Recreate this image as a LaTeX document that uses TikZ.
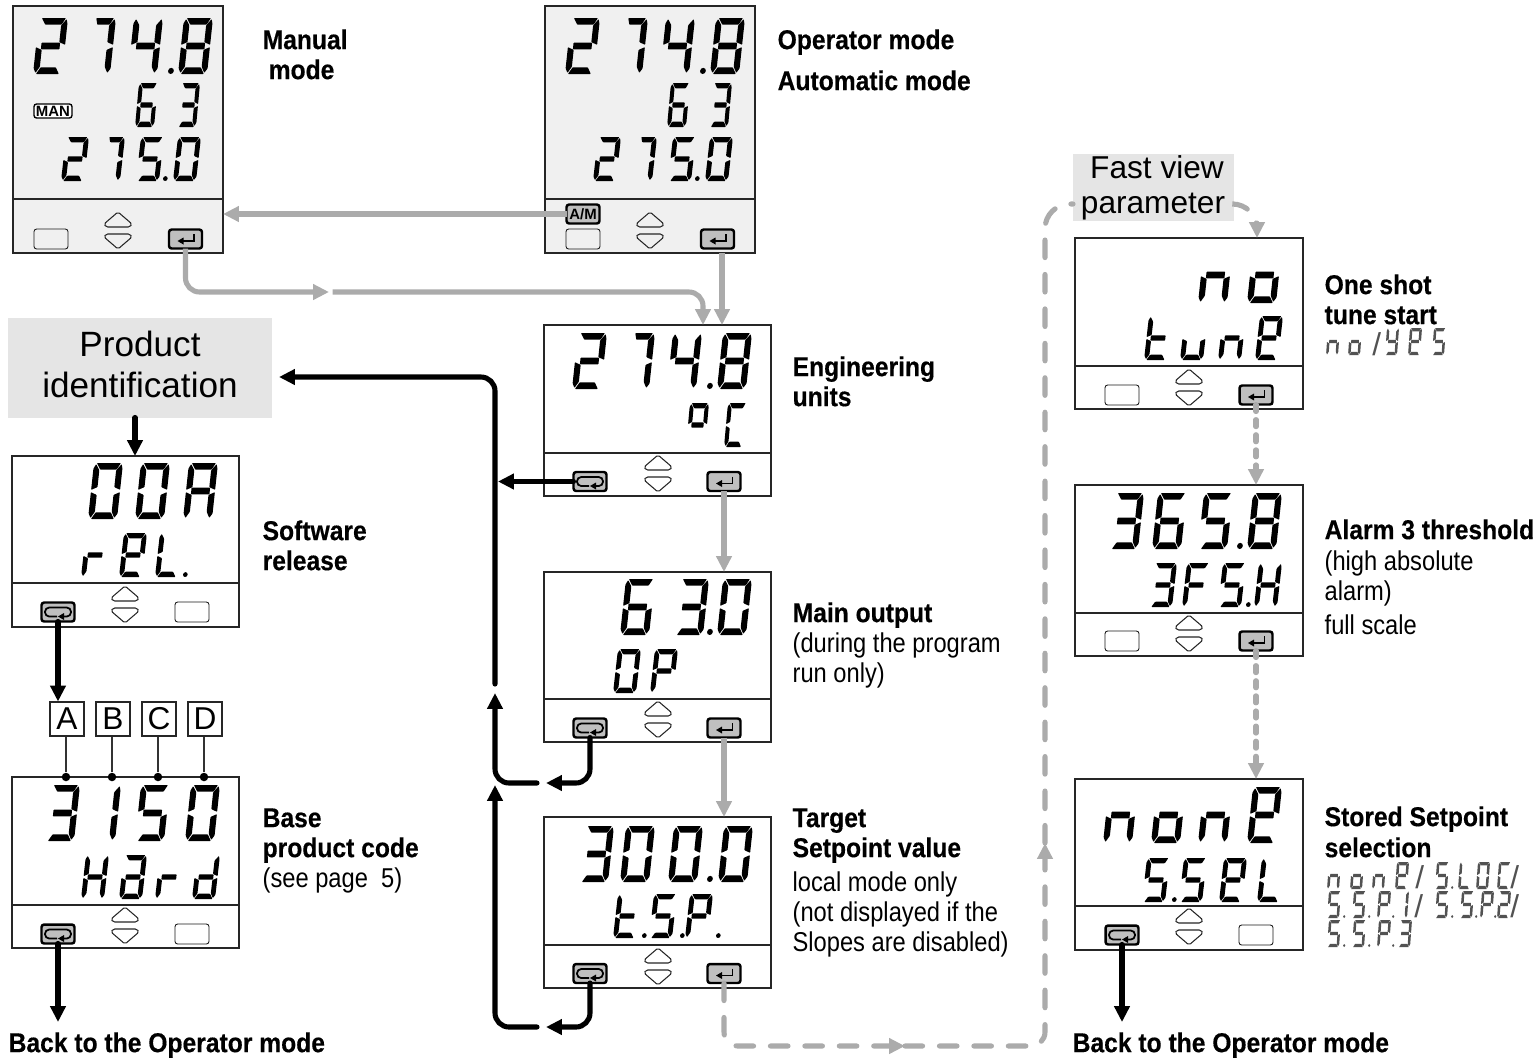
\documentclass[tikz,border=0pt]{standalone}
\usepackage{fontspec}
\setmainfont{Liberation Sans}
\newfontfamily\narrowfont[FakeStretch=0.87]{Liberation Sans}
\newfontfamily\narrowbold[FakeStretch=0.905,FakeBold=0.4,UprightFont={* Bold}]{Liberation Sans}
\usetikzlibrary{arrows.meta}

% segment shapes in a unit box
\newcommand{\lcdsega}{\fill[lcdink] (.10,1) -- (.93,1) -- (.80,.88) -- (.24,.88) -- cycle;}
\newcommand{\lcdsegA}{\fill[lcdink] (.32,1) -- (.93,1) -- (.80,.88) -- (.38,.88) -- cycle;}
\newcommand{\lcdsegb}{\fill[lcdink] (1.0,.52) -- (1.0,.90) -- (.96,.98) -- (.79,.87) -- (.79,.57) -- cycle;}
\newcommand{\lcdsegc}{\fill[lcdink] (1.0,.48) -- (.79,.43) -- (.79,.13) -- (.90,.02) -- (1.0,.10) -- cycle;}
\newcommand{\lcdsegd}{\fill[lcdink] (.10,0) -- (.89,0) -- (.76,.12) -- (.24,.12) -- cycle;}
\newcommand{\lcdsege}{\fill[lcdink] (0,.48) -- (.21,.43) -- (.21,.13) -- (.08,.02) -- (0,.10) -- cycle;}
\newcommand{\lcdsegf}{\fill[lcdink] (0,.52) -- (0,.90) -- (.08,.98) -- (.21,.87) -- (.21,.57) -- cycle;}
\newcommand{\lcdsegg}{\fill[lcdink] (.18,.56) -- (.82,.56) -- (.82,.44) -- (.18,.44) -- cycle;}
\newcommand{\lcdsegp}{\fill[lcdink] (.09,.055) ellipse (.10 and .055);}
% which segments each character lights
\expandafter\def\csname lcdmap0\endcsname{a,b,c,d,e,f}
\expandafter\def\csname lcdmap1\endcsname{b,c}
\expandafter\def\csname lcdmap2\endcsname{a,b,d,e,g}
\expandafter\def\csname lcdmap3\endcsname{a,b,c,d,g}
\expandafter\def\csname lcdmap4\endcsname{b,c,f,g}
\expandafter\def\csname lcdmap5\endcsname{a,c,d,f,g}
\expandafter\def\csname lcdmap6\endcsname{a,c,d,e,f,g}
\expandafter\def\csname lcdmap7\endcsname{A,b,c}
\expandafter\def\csname lcdmap8\endcsname{a,b,c,d,e,f,g}
\expandafter\def\csname lcdmapA\endcsname{a,b,c,e,f,g}
\expandafter\def\csname lcdmapC\endcsname{a,d,e,f}
\expandafter\def\csname lcdmapE\endcsname{a,b,d,e,f,g}
\expandafter\def\csname lcdmapF\endcsname{a,e,f,g}
\expandafter\def\csname lcdmapH\endcsname{b,c,e,f,g}
\expandafter\def\csname lcdmapL\endcsname{d,e,f}
\expandafter\def\csname lcdmapO\endcsname{a,b,c,d,e,f}
\expandafter\def\csname lcdmapP\endcsname{a,b,e,f,g}
\expandafter\def\csname lcdmapS\endcsname{a,c,d,f,g}
\expandafter\def\csname lcdmapY\endcsname{b,c,d,f,g}
\expandafter\def\csname lcdmapa\endcsname{a,b,c,d,e,g}
\expandafter\def\csname lcdmapd\endcsname{b,c,d,e,g}
\expandafter\def\csname lcdmapn\endcsname{c,e,g}
\expandafter\def\csname lcdmapo\endcsname{c,d,e,g}
\expandafter\def\csname lcdmapq\endcsname{a,b,f,g}
\expandafter\def\csname lcdmapr\endcsname{e,g}
\expandafter\def\csname lcdmapt\endcsname{d,e,f,g}
\expandafter\def\csname lcdmapu\endcsname{c,d,e}
\expandafter\def\csname lcdmap.\endcsname{p}

% width, slant, height, baseline, char/x list
\newcommand{\lcdrow}[5]{%
\foreach \ch/\xx in {#5} {
\begin{scope}[shift={(\xx,#4)},x={(#1*0.02cm,0cm)},y={(#2*0.02cm,#3*0.02cm)}]
\expandafter\let\expandafter\lcdlist\csname lcdmap\ch\endcsname
\foreach \sg in \lcdlist {\csname lcdseg\sg\endcsname}
\end{scope}}}
\newcommand{\bigrow}[2]{\lcdrow{29}{6}{56}{#1}{#2}}
\newcommand{\midrow}[2]{\lcdrow{23}{5}{44}{#1}{#2}}
\newcommand{\lowrow}[2]{\lcdrow{19}{4}{44}{#1}{#2}}
\newcommand{\tinyrow}[2]{\begin{scope}[lcdink/.style={fill=black!68}]\lcdrow{12}{2}{27}{#1}{#2}\end{scope}}

% name, x0, y0, x1, y1, separator y, style
\newcommand{\lcdpanel}[7]{%
\pgfmathsetmacro\pw{#4-#2}\pgfmathsetmacro\ph{#5-#3}
\node[#7,minimum width=\pw*0.02cm,minimum height=\ph*0.02cm,anchor=north west] (#1) at (#2,#3) {};
\draw[panelline] (#2,#6) -- (#4,#6);}
\newcommand{\updown}[2]{\begin{scope}[shift={(#1,#2)}]
\draw[panelline,rounded corners=1pt] (-14,12) -- (0,0) -- (14,12) -- (12,15) -- (-12,15) -- cycle;
\draw[panelline,rounded corners=1pt] (-14,25) -- (0,37) -- (14,25) -- (12,22) -- (-12,22) -- cycle;
\end{scope}}
\newcommand{\blankkey}[3]{\node[blankbox] (#1) at (#2,#3) {};}
\newcommand{\enterkey}[3]{\node[keybox] (#1) at (#2,#3) {};
\begin{scope}[shift={(#2,#3)}]
\draw[line width=0.9pt] (8.5,-5) -- (8.5,2) -- (-3,2);
\fill (-8,2) -- (-2,-1.5) -- (-2,5.5) -- cycle;
\end{scope}}
\newcommand{\loopkey}[3]{\node[keybox] (#1) at (#2,#3) {};
\begin{scope}[shift={(#2,#3)}]
\draw[line width=1pt,rounded corners=2.4pt] (-1,4.5) -- (-13,4.5) -- (-13,-4.5) -- (13,-4.5) -- (13,4.5) -- (5,4.5);
\fill (0,4.5) -- (6,1) -- (6,8) -- cycle;
\end{scope}}

\tikzset{
lcdink/.style={fill=black,rounded corners=0.4pt},
panelline/.style={draw=black!85,line width=0.6pt},
whitepanel/.style={rectangle,draw=black!85,line width=0.6pt,fill=white,inner sep=0pt,outer sep=0pt},
greypanel/.style={whitepanel,fill=black!6},
keybox/.style={rectangle,rounded corners=1.5pt,draw=black,line width=1.4pt,fill=black!25,minimum width=0.66cm,minimum height=0.38cm,inner sep=0pt,outer sep=0pt},
blankbox/.style={keybox,draw=black!90,line width=0.5pt,fill=none,minimum width=0.68cm,minimum height=0.4cm},
boldlab/.style={anchor=base west,inner sep=0pt,xshift=-0.4pt,yshift=0.5pt,font=\narrowbold\fontsize{15.5}{15.5}\selectfont},
thinlab/.style={anchor=base west,inner sep=0pt,xshift=-0.4pt,yshift=0.5pt,font=\narrowfont\fontsize{15.5}{15.5}\selectfont},
slashlab/.style={anchor=base west,inner sep=0pt,text=black!68,font=\fontsize{18}{18}\selectfont},
heading/.style={fill=black!10,inner sep=0pt,outer sep=0pt,align=center},
pin/.style={rectangle,draw=black!85,line width=0.6pt,inner sep=0pt,minimum size=0.68cm,font=\fontsize{18}{18}\selectfont},
pindot/.style={circle,fill=black,inner sep=0pt,minimum size=0.17cm},
blackflow/.style={draw=black,line width=2.9pt,rounded corners=8pt,line cap=round},
blackarrow/.style={blackflow,-{Triangle[length=9pt,width=8.5pt]}},
greyflow/.style={draw=black!33,line width=2.9pt,rounded corners=8pt},
greyarrow/.style={greyflow,-{Triangle[length=9pt,width=8.5pt]}},
longdash/.style={line cap=round,dash pattern=on 10pt off 9.6pt},
shortdash/.style={line cap=round,dash pattern=on 4pt off 4.6pt},
}

\begin{document}
\begin{tikzpicture}[x=0.02cm,y=-0.02cm]
\useasboundingbox (0,0) rectangle (1537,1059);

% top row
\lcdpanel{manual}{13}{6}{223}{253}{199}{greypanel}
\bigrow{74}{2/33,7/81,4/128,./168,8/178}
\lowrow{127}{6/135,3/177}
\midrow{181}{2/61,7/97,5/136,./163,0/173}
\node[rectangle,rounded corners=1.5pt,draw=black,line width=0.8pt,fill=white,inner sep=0pt,minimum width=0.76cm,minimum height=0.28cm,font=\bfseries\fontsize{8.5}{8.5}\selectfont] (manflag) at (53,111) {MAN};
\blankkey{man-blank}{51}{239}
\updown{118}{212}
\enterkey{man-ent}{185.5}{239}
\node[boldlab] (man-a) at (263,50) {Manual};
\node[boldlab] (man-b) at (269,80) {mode};

\lcdpanel{operator}{545}{6}{755}{253}{199}{greypanel}
\bigrow{74}{2/565,7/613,4/660,./700,8/710}
\lowrow{127}{6/667,3/709}
\midrow{181}{2/593,7/629,5/668,./695,0/705}
\node[keybox,font=\bfseries\fontsize{8.5}{8.5}\selectfont] (opr-am) at (583,214) {A/M};
\blankkey{opr-blank}{583}{239}
\updown{650}{212}
\enterkey{opr-ent}{717.5}{239}
\node[boldlab] (opr-a) at (778,50) {Operator mode};
\node[boldlab] (opr-b) at (778,91) {Automatic mode};

% centre column
\lcdpanel{eng}{544}{325}{771}{496}{453}{whitepanel}
\bigrow{389}{2/572,7/620,4/667,./707,8/717}
\lowrow{447}{q/686,C/724}
\loopkey{eng-loop}{590}{481.5}
\updown{658}{455}
\enterkey{eng-ent}{724}{481.5}
\node[boldlab] (eng-a) at (793,377) {Engineering};
\node[boldlab] (eng-b) at (793,407) {units};

\lcdpanel{mainout}{544}{572}{771}{742}{699}{whitepanel}
\bigrow{635}{6/620,3/674,./707,0/717}
\midrow{693}{O/613,P/650}
\loopkey{main-loop}{590}{728}
\updown{658}{701}
\enterkey{main-ent}{724}{728}
\node[boldlab] (main-a) at (793,623) {Main output};
\node[thinlab] (main-b) at (793,653) {(during the program};
\node[thinlab] (main-c) at (793,683) {run only)};

\lcdpanel{target}{544}{817}{771}{988}{945}{whitepanel}
\bigrow{882}{3/579,0/620,0/668,./707,0/718}
\midrow{938}{t/613,./642,5/649,./680,P/685,./716}
\loopkey{tgt-loop}{590}{973.5}
\updown{658}{948}
\enterkey{tgt-ent}{724}{973.5}
\node[boldlab] (tgt-a) at (793,828) {Target};
\node[boldlab] (tgt-b) at (793,858) {Setpoint value};
\node[thinlab] (tgt-c) at (793,892) {local mode only};
\node[thinlab] (tgt-d) at (793,922) {(not displayed if the};
\node[thinlab] (tgt-e) at (793,952) {Slopes are disabled)};

% left column
\node[heading,minimum width=5.28cm,minimum height=2cm] (product) at (140,367.5) {};
\node[anchor=base,inner sep=0pt,font=\fontsize{20}{20}\selectfont] (product-a) at (140,356) {Product};
\node[anchor=base,inner sep=0pt,font=\fontsize{20}{20}\selectfont] (product-b) at (140,397) {identification};

\lcdpanel{release}{12}{456}{239}{627}{583}{whitepanel}
\bigrow{519}{0/88,0/135,A/183}
\midrow{577}{r/81,E/119,L/155,./183}
\loopkey{rel-loop}{58}{612}
\updown{125}{586}
\blankkey{rel-blank}{192}{612}
\node[boldlab] (rel-a) at (263,541) {Software};
\node[boldlab] (rel-b) at (263,571) {release};

\foreach \pn/\px in {A/67,B/113,C/159,D/205}
\node[pin] (pin\pn) at (\px,719) {\pn};

\lcdpanel{base}{12}{777}{239}{948}{905}{whitepanel}
\bigrow{841}{3/45,1/86,5/135,0/185}
\midrow{899}{H/81,a/119,r/155,d/192}
\loopkey{base-loop}{58}{934}
\updown{125}{907}
\blankkey{base-blank}{192}{934}
\node[boldlab] (base-a) at (263,828) {Base};
\node[boldlab] (base-b) at (263,858) {product code};
\node[thinlab] (base-c) at (263,888) {(see page~ 5)};
\foreach \pn/\px in {A/66,B/112,C/158,D/204} {
\node[pindot] (dot\pn) at (\px,777) {};
\draw[draw=black!80,line width=0.6pt] (pin\pn.south -| dot\pn) -- (dot\pn);
}
\node[boldlab] (back-a) at (9,1053) {Back to the Operator mode};

% right column
\node[heading,minimum width=3.22cm,minimum height=1.34cm] (fastview) at (1153.5,187.5) {};
\node[anchor=base,inner sep=0pt,font=\fontsize{18}{18}\selectfont] (fastview-a) at (1157,178) {Fast view};
\node[anchor=base,inner sep=0pt,font=\fontsize{18}{18}\selectfont] (fastview-b) at (1153,213) {parameter};

\lcdpanel{oneshot}{1075}{238}{1303}{409}{366}{whitepanel}
\bigrow{303}{n/1198,o/1247}
\midrow{360}{t/1144,u/1180,n/1218,E/1255}
\blankkey{shot-blank}{1122}{395}
\updown{1189}{369}
\enterkey{shot-ent}{1256}{395}
\node[boldlab] (shot-a) at (1325,295) {One shot};
\node[boldlab] (shot-b) at (1325,325) {tune start};
\tinyrow{355}{n/1326,o/1348,Y/1385,E/1408,S/1432}
\node[slashlab] (shot-s) at (1372,355) {/};

\lcdpanel{alarm}{1075}{485}{1303}{656}{613}{whitepanel}
\bigrow{549}{3/1109,6/1152,5/1198,./1237,8/1247}
\midrow{607}{3/1149,F/1182,5/1218,./1246,H/1254}
\blankkey{alarm-blank}{1122}{641}
\updown{1189}{615}
\enterkey{alarm-ent}{1256}{641}
\node[boldlab] (alarm-a) at (1325,540) {Alarm 3 threshold};
\node[thinlab] (alarm-b) at (1325,571) {(high absolute};
\node[thinlab] (alarm-c) at (1325,601) {alarm)};
\node[thinlab] (alarm-d) at (1325,635) {full scale};

\lcdpanel{stored}{1075}{779}{1303}{950}{906}{whitepanel}
\bigrow{843}{n/1103,o/1151,n/1198,E/1247}
\midrow{902}{5/1142,./1172,5/1179,E/1219,L/1257}
\loopkey{stored-loop}{1122}{935}
\updown{1189}{908}
\blankkey{stored-blank}{1256}{935}
\node[boldlab] (stored-a) at (1325,827) {Stored Setpoint};
\node[boldlab] (stored-b) at (1325,858) {selection};
\tinyrow{889}{n/1327,o/1350,n/1372,E/1395,S/1435,./1451,L/1458,O/1476,C/1497}
\tinyrow{918}{S/1327,./1343,S/1352,./1368,P/1377,./1392,1/1395,S/1435,./1451,S/1460,./1475,P/1480,./1494,2/1497}
\tinyrow{947}{S/1327,./1343,S/1352,./1368,P/1377,./1392,3/1398}
\node[slashlab] (stored-s1) at (1415,888) {/};
\node[slashlab] (stored-s2) at (1510,888) {/};
\node[slashlab] (stored-s3) at (1414,917) {/};
\node[slashlab] (stored-s4) at (1510,917) {/};
\node[boldlab] (back-b) at (1073,1053) {Back to the Operator mode};

% grey flow
\coordinate (join) at (329,292);
\coordinate (engleft) at (703,325);
\coordinate (engright) at (722,325);
\draw[greyarrow] (opr-am.west) -- (opr-am.west -| manual.east);
\draw[greyarrow] (man-ent.south) |- (join);
\draw[greyarrow,shorten <=2pt] (join) -| (engleft);
\draw[greyarrow] (engright |- operator.south) -- (engright);
\draw[greyarrow] (eng-ent.south) -- (eng-ent.south |- mainout.north);
\draw[greyarrow] (main-ent.south) -- (main-ent.south |- target.north);

% dashed grey flow
\coordinate (midbottom) at (905,1046);
\coordinate (midright) at (1045,843);
\coordinate (fastleft) at (1073,204);
\coordinate (fastright) at (1234,204);
\coordinate (shotin) at (1257,238);
\draw[greyarrow,longdash] (tgt-ent.south) |- (midbottom);
\draw[greyarrow,longdash] (midbottom) -| (midright);
\draw[greyflow,longdash,rounded corners=14pt] (midright) |- (fastleft);
\draw[greyarrow,longdash,rounded corners=14pt] (fastright) -| (shotin);
\draw[greyarrow,shortdash] (shot-ent.south) -- (shot-ent.south |- alarm.north);
\draw[greyarrow,shortdash] (alarm-ent.south) -- (alarm-ent.south |- stored.north);

% black flow
\coordinate (backleft) at (58,1022);
\coordinate (backright) at (1122,1022);
\coordinate (engin) at (498,483);
\coordinate (riser) at (495,684);
\coordinate (riserlow) at (495,693);
\coordinate (riserbase) at (495,785);
\coordinate (productin) at (279,377);
\coordinate (mainjoin) at (546,783);
\coordinate (tgtjoin) at (546,1027);
\draw[blackarrow] (product.south -| 135,0) -- (release.north -| 135,0);
\draw[blackarrow] (rel-loop.south) -- (rel-loop.south |- pinA.north);
\draw[blackarrow] (base-loop.south) -- (backleft);
\draw[blackarrow] (stored-loop.south) -- (backright);
\draw[blackarrow] (eng-loop.west) -- (engin |- eng-loop.west);
\draw[blackarrow] (riser) |- (productin);
\draw[blackarrow] (main-loop.south) |- (mainjoin);
\draw[blackarrow] (mainjoin) ++(-9,0) -| (riserlow);
\draw[blackarrow] (tgt-loop.south) |- (tgtjoin);
\draw[blackarrow] (tgtjoin) ++(-9,0) -| (riserbase);
\end{tikzpicture}
\end{document}
